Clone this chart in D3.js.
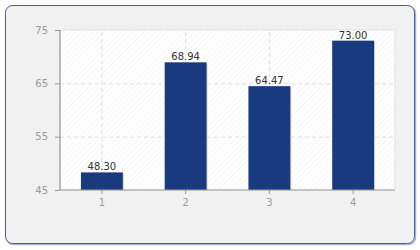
<!DOCTYPE html>
<html>
<head>
<meta charset="utf-8">
<script src="https://cdn.jsdelivr.net/npm/d3@7"></script>
<style>
  body { margin: 0; background: #fff; }
  text { font-family: "DejaVu Sans", Verdana, sans-serif; }
</style>
</head>
<body>
<div id="main"></div>
<script>
var width = 420;
var height = 250;
var plot = {l: 60, r: 395, t: 30, b: 190};

// data
var categories = ['1', '2', '3', '4'];
var values = [48.30, 68.94, 64.47, 73.00];
var yTicks = [45, 55, 65, 75];

var svg = d3.select('#main').append('svg')
    .attr('width', width)
    .attr('height', height);

// hatch pattern for the plot background
var defs = svg.append('defs');
var pat = defs.append('pattern')
    .attr('id', 'hatch')
    .attr('patternUnits', 'userSpaceOnUse')
    .attr('width', 4)
    .attr('height', 4)
    .attr('patternTransform', 'rotate(45)');
pat.append('rect').attr('width', 4).attr('height', 4).attr('fill', '#ffffff');
pat.append('line')
    .attr('x1', 0).attr('y1', 0).attr('x2', 0).attr('y2', 4)
    .attr('stroke', '#f0f0f0').attr('stroke-width', 1.2);

// outer panel
svg.append('rect')
    .attr('x', 6.5).attr('y', 6.5)
    .attr('width', 409).attr('height', 238)
    .attr('rx', 7)
    .attr('fill', 'none')
    .attr('stroke', '#aab4d4')
    .attr('stroke-width', 1.5);
svg.append('rect')
    .attr('x', 5.5).attr('y', 5.5)
    .attr('width', 409).attr('height', 238)
    .attr('rx', 7)
    .attr('fill', '#f1f1f1')
    .attr('stroke', '#4c5a94')
    .attr('stroke-width', 1);

var xScale = d3.scaleBand()
    .domain(categories)
    .range([plot.l, plot.r])
    .paddingInner(0.5)
    .paddingOuter(0.25);

var yScale = d3.scaleLinear()
    .domain([45, 75])
    .range([plot.b, plot.t]);

// plot background
svg.append('rect')
    .attr('x', plot.l).attr('y', plot.t)
    .attr('width', plot.r - plot.l).attr('height', plot.b - plot.t)
    .attr('fill', 'url(#hatch)')
    .attr('stroke', '#e2e2e2');

// grid lines
var xGrid = d3.axisBottom(xScale).tickSize(-(plot.b - plot.t)).tickFormat('');
svg.append('g')
    .attr('class', 'grid')
    .attr('transform', `translate(0, ${plot.b})`)
    .call(xGrid)
    .call(g => g.select('.domain').remove());

var yGrid = d3.axisLeft(yScale).tickValues(yTicks.slice(1, 3)).tickSize(-(plot.r - plot.l)).tickFormat('');
svg.append('g')
    .attr('class', 'grid')
    .attr('transform', `translate(${plot.l}, 0)`)
    .call(yGrid)
    .call(g => g.select('.domain').remove());

svg.selectAll('.grid line')
    .attr('stroke', '#e0e0e0')
    .attr('stroke-dasharray', '4,3');

// bars, with a faint shadow
svg.selectAll('.shadow')
    .data(values)
    .enter()
    .append('rect')
    .attr('class', 'shadow')
    .attr('x', function(d, i) { return xScale(categories[i]) + 1; })
    .attr('y', function(d) { return yScale(d) + 1; })
    .attr('width', xScale.bandwidth())
    .attr('height', function(d) { return plot.b - yScale(d) - 1; })
    .attr('fill', '#d4d4d4');

svg.selectAll('.bar')
    .data(values)
    .enter()
    .append('rect')
    .attr('class', 'bar')
    .attr('x', function(d, i) { return xScale(categories[i]); })
    .attr('y', function(d) { return yScale(d); })
    .attr('width', xScale.bandwidth())
    .attr('height', function(d) { return plot.b - yScale(d); })
    .attr('fill', '#1a3a80');

svg.selectAll('.val')
    .data(values)
    .enter()
    .append('text')
    .attr('class', 'val')
    .attr('x', function(d, i) { return xScale(categories[i]) + xScale.bandwidth() / 2; })
    .attr('y', function(d) { return yScale(d) - 2; })
    .attr('text-anchor', 'middle')
    .attr('font-size', '10px')
    .attr('fill', '#333')
    .text(function(d) { return d.toFixed(2); });

// axes
var xAxis = d3.axisBottom(xScale).tickSize(4).tickPadding(5);
var yAxis = d3.axisLeft(yScale).tickValues(yTicks).tickSize(5).tickPadding(7);

var gx = svg.append('g')
    .attr('transform', `translate(0, ${plot.b})`)
    .call(xAxis);
var gy = svg.append('g')
    .attr('transform', `translate(${plot.l}, 0)`)
    .call(yAxis);

[gx, gy].forEach(function(g) {
    g.select('.domain').attr('stroke', '#999').attr('stroke-width', 1.2);
    g.selectAll('.tick line').attr('stroke', '#999');
    g.selectAll('.tick text')
        .attr('fill', '#999')
        .attr('font-size', '10px')
        .style('font-family', '"DejaVu Sans", Verdana, sans-serif');
});
gx.select('.domain').attr('d', `M${plot.l},0H${plot.r}`);
gy.select('.domain').attr('d', `M0,${plot.t}V${plot.b}`);
</script>
</body>
</html>
